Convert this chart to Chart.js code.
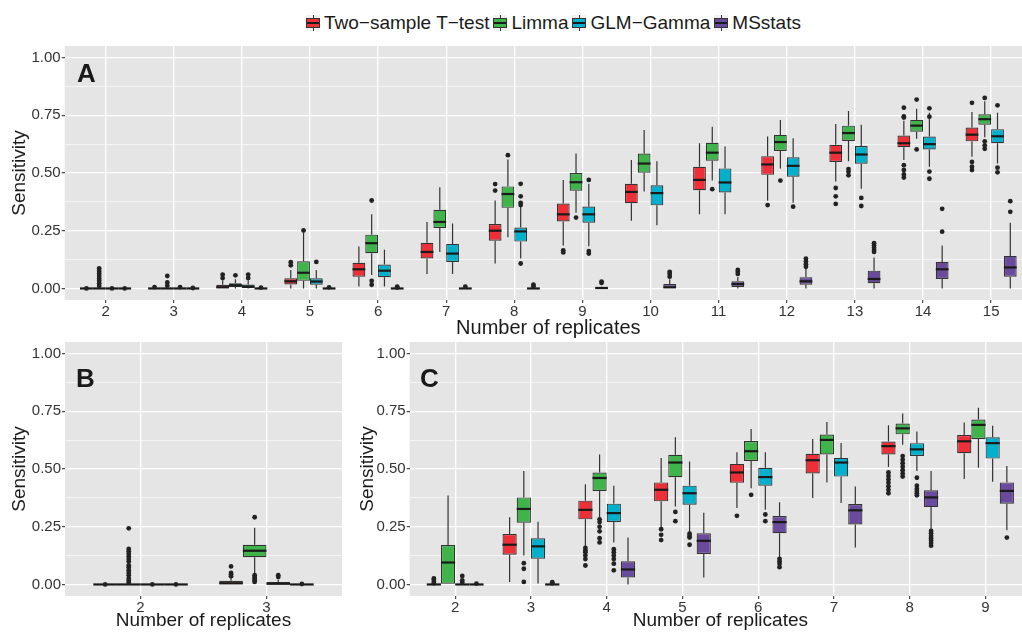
<!DOCTYPE html>
<html>
<head>
<meta charset="utf-8">
<script src="https://cdn.jsdelivr.net/npm/chart.js@4.4.1/dist/chart.umd.min.js"></script>
<style>
    html, body { margin: 0; padding: 0; overflow: hidden; background: #fff; }
    body { width: 1022px; height: 632px; position: relative; font-family: "Liberation Sans", Arial, Helvetica, sans-serif; }
    canvas { position: absolute; }
    #legend { position: absolute; left: 306px; top: 12px; display: flex; align-items: center; font-size: 19px; color: #1a1a1a; }
    .key { position: relative; width: 14px; height: 16px; background: #F2F2F2; margin-right: 4px; }
    .key .wh { position: absolute; left: 6.5px; top: 0; width: 1px; height: 16px; background: #333; }
    .key .bx { position: absolute; left: 0; top: 3px; width: 12px; height: 8px; border: 1px solid #333; }
    .key .md { position: absolute; left: 1px; top: 7px; width: 12px; height: 2px; background: #1a1a1a; }
    .item { display: flex; align-items: center; margin-right: 4px; white-space: nowrap; }
    .tag { position: absolute; font-size: 26px; line-height: 26px; font-weight: bold; color: #1a1a1a; }
</style>
</head>
<body>
<div id="legend"></div>
<canvas id="chartA" width="1036" height="304" style="left:0;top:36px"></canvas>
<canvas id="chartB" width="346" height="300" style="left:0;top:332px"></canvas>
<canvas id="chartC" width="680" height="300" style="left:355px;top:332px"></canvas>
<div class="tag" style="left:77px;top:60px">A</div>
<div class="tag" style="left:76px;top:365px">B</div>
<div class="tag" style="left:420px;top:365px">C</div>
<script>
const methods = ['Two−sample T−test', 'Limma', 'GLM−Gamma', 'MSstats'];
const colors = ['#EE2F37', '#3FB44A', '#00B0CD', '#6A4A9D'];
const dodge = [-0.28125, -0.09375, 0.09375, 0.28125];

const yTicks = [0, 0.25, 0.5, 0.75, 1];
const yTickLabels = ['0.00', '0.25', '0.50', '0.75', '1.00'];
const yMinor = [0.125, 0.375, 0.625, 0.875];

// box stats: [lower whisker, q1, median, q3, upper whisker]
const catsA = [2, 3, 4, 5, 6, 7, 8, 9, 10, 11, 12, 13, 14, 15];
const ttestA = [
    [0, 0, 0, 0, 0], [0, 0, 0, 0, 0], [0, 0, 0.005, 0.016, 0.035], [0, 0.017, 0.031, 0.044, 0.08],
    [0.009, 0.051, 0.083, 0.111, 0.182], [0.063, 0.13, 0.158, 0.198, 0.288], [0.108, 0.207, 0.25, 0.279, 0.381],
    [0.186, 0.29, 0.321, 0.368, 0.47], [0.293, 0.369, 0.418, 0.453, 0.556], [0.321, 0.425, 0.47, 0.527, 0.629],
    [0.38, 0.492, 0.537, 0.573, 0.658], [0.463, 0.548, 0.588, 0.622, 0.712], [0.556, 0.612, 0.629, 0.662, 0.726],
    [0.57, 0.637, 0.666, 0.697, 0.764]
];
const limmaA = [
    [0, 0, 0, 0, 0], [0, 0, 0, 0, 0], [0, 0.006, 0.014, 0.023, 0.04], [0, 0.033, 0.068, 0.118, 0.24],
    [0.058, 0.153, 0.196, 0.233, 0.321], [0.158, 0.262, 0.288, 0.341, 0.438], [0.222, 0.349, 0.409, 0.442, 0.558],
    [0.328, 0.423, 0.46, 0.5, 0.584], [0.42, 0.501, 0.541, 0.584, 0.686], [0.467, 0.553, 0.588, 0.631, 0.7],
    [0.52, 0.595, 0.634, 0.665, 0.73], [0.551, 0.639, 0.673, 0.705, 0.769], [0.648, 0.679, 0.705, 0.73, 0.778],
    [0.655, 0.709, 0.733, 0.754, 0.811]
];
const glmA = [
    [0, 0, 0, 0, 0], [0, 0, 0, 0, 0], [0, 0.002, 0.008, 0.017, 0.035], [0, 0.016, 0.03, 0.044, 0.08],
    [0.009, 0.049, 0.077, 0.104, 0.168], [0.063, 0.115, 0.151, 0.193, 0.281], [0.13, 0.203, 0.247, 0.264, 0.355],
    [0.183, 0.285, 0.321, 0.355, 0.453], [0.274, 0.36, 0.413, 0.447, 0.551], [0.321, 0.416, 0.459, 0.52, 0.615],
    [0.371, 0.484, 0.531, 0.568, 0.651], [0.432, 0.54, 0.58, 0.617, 0.709], [0.527, 0.602, 0.625, 0.658, 0.761],
    [0.541, 0.629, 0.659, 0.69, 0.761]
];
const msA = [
    [0, 0, 0, 0, 0], [0, 0, 0, 0, 0], [0, 0, 0, 0, 0], [0, 0, 0, 0, 0],
    [0, 0, 0, 0, 0], [0, 0, 0, 0, 0], [0, 0, 0, 0, 0],
    [0, 0, 0.002, 0.004, 0.008], [0, 0, 0.005, 0.019, 0.04], [0, 0.006, 0.019, 0.031, 0.05],
    [0, 0.016, 0.031, 0.049, 0.087], [0, 0.023, 0.041, 0.077, 0.134], [0, 0.041, 0.083, 0.115, 0.186],
    [0, 0.051, 0.091, 0.141, 0.285]
];
const ttestOutA = [
    [0], [0.006], [0.06, 0.045], [0.114, 0.1], [], [], [0.452, 0.424], [0.165, 0.156], [], [], [0.361],
    [0.435, 0.399, 0.366], [0.783, 0.745, 0.74, 0.534, 0.513, 0.494, 0.48], [0.804, 0.548, 0.527, 0.513]
];
const limmaOutA = [
    [0.087, 0.076, 0.065, 0.054, 0.043, 0.033, 0.022, 0.011], [0.054, 0.026, 0.012], [0.057], [0.251],
    [0.381, 0.033, 0.016], [], [0.577], [0.307], [], [0.43], [0.467], [0.517, 0.505, 0.49], [0.818, 0.602],
    [0.825, 0.637, 0.62, 0.605]
];
const glmOutA = [
    [0], [0.006], [0.06, 0.045], [0.115], [], [], [0.453, 0.399, 0.371, 0.361, 0.108], [0.47, 0.162, 0.151], [], [],
    [0.354], [0.392, 0.357], [0.78, 0.744, 0.506, 0.475], [0.793, 0.523, 0.503]
];
const msOutA = [
    [0], [0.002], [0.004], [0.005], [0.008, 0.004], [0.008], [0.016, 0.01], [0.03, 0.024],
    [0.072, 0.063, 0.051], [0.08, 0.072, 0.063], [0.129, 0.117, 0.105, 0.094],
    [0.196, 0.186, 0.176, 0.166, 0.158], [0.345, 0.246], [0.378, 0.332]
];

const catsB = [2, 3];
const ttestB = [[0, 0, 0, 0, 0], [0, 0, 0.005, 0.016, 0.03]];
const limmaB = [[0, 0, 0, 0, 0], [0.05, 0.118, 0.146, 0.172, 0.246]];
const glmB = [[0, 0, 0, 0, 0], [0, 0, 0.003, 0.011, 0.02]];
const msB = [[0, 0, 0, 0, 0], [0, 0, 0, 0, 0]];
const ttestOutB = [[0], [0.078, 0.05, 0.043, 0.036]];
const limmaOutB = [
    [0.243, 0.154, 0.144, 0.133, 0.121, 0.11, 0.099, 0.083, 0.073, 0.062, 0.051, 0.04, 0.026, 0.016, 0.008],
    [0.291, 0.04, 0.032, 0.026, 0.018, 0.011]
];
const glmOutB = [[0], [0.04, 0.032]];
const msOutB = [[0], [0.002]];

const catsC = [2, 3, 4, 5, 6, 7, 8, 9];
const ttestC = [
    [0, 0, 0, 0, 0], [0.011, 0.129, 0.172, 0.218, 0.291], [0.163, 0.282, 0.323, 0.363, 0.434],
    [0.246, 0.36, 0.41, 0.442, 0.548], [0.331, 0.44, 0.485, 0.522, 0.573], [0.374, 0.481, 0.538, 0.566, 0.63],
    [0.509, 0.563, 0.599, 0.619, 0.69], [0.457, 0.568, 0.62, 0.647, 0.701]
];
const limmaC = [
    [0, 0, 0.095, 0.171, 0.385], [0.125, 0.267, 0.327, 0.377, 0.491], [0.289, 0.405, 0.461, 0.485, 0.563],
    [0.338, 0.464, 0.528, 0.562, 0.637], [0.417, 0.535, 0.577, 0.621, 0.673], [0.442, 0.563, 0.626, 0.649, 0.704],
    [0.605, 0.65, 0.676, 0.697, 0.74], [0.505, 0.63, 0.691, 0.714, 0.765]
];
const glmC = [
    [0, 0, 0, 0, 0], [0.004, 0.111, 0.165, 0.2, 0.272], [0.182, 0.271, 0.309, 0.35, 0.428],
    [0.225, 0.345, 0.395, 0.428, 0.533], [0.324, 0.428, 0.465, 0.505, 0.573], [0.353, 0.467, 0.528, 0.548, 0.613],
    [0.491, 0.556, 0.585, 0.612, 0.662], [0.445, 0.545, 0.612, 0.637, 0.687]
];
const msC = [
    [0, 0, 0, 0, 0], [0, 0, 0, 0, 0], [0, 0.03, 0.065, 0.1, 0.203], [0.03, 0.132, 0.189, 0.222, 0.31],
    [0.118, 0.222, 0.27, 0.296, 0.356], [0.16, 0.26, 0.321, 0.348, 0.424], [0.239, 0.335, 0.377, 0.408, 0.491],
    [0.235, 0.35, 0.405, 0.442, 0.513]
];
const ttestOutC = [
    [0.026, 0.02, 0.012, 0.005], [], [0.158, 0.147, 0.14, 0.125, 0.11, 0.082], [0.239, 0.215, 0.192], [0.297], [],
    [0.485, 0.47, 0.455, 0.44, 0.425, 0.41, 0.395], []
];
const limmaOutC = [
    [], [0.092, 0.068, 0.011], [0.282, 0.27, 0.25, 0.23, 0.2, 0.182], [0.314, 0.274], [0.388], [],
    [0.556, 0.54, 0.525, 0.51, 0.495, 0.48, 0.467], []
];
const glmOutC = [
    [0.037, 0.018, 0.008], [], [0.153, 0.14, 0.125, 0.11, 0.09, 0.061], [0.22, 0.21, 0.203, 0.172], [0.303, 0.274], [],
    [0.462, 0.428, 0.415, 0.405, 0.395, 0.386], []
];
const msOutC = [
    [0.004], [0.01, 0.005], [], [], [0.111, 0.1, 0.09, 0.075], [],
    [0.232, 0.222, 0.21, 0.2, 0.19, 0.18, 0.168], [0.203]
];

Chart.defaults.font.family = '"Liberation Sans", Arial, Helvetica, sans-serif';
Chart.defaults.color = '#333';

// panel background, whiskers and median lines
const boxPlugin = {
    id: 'boxes',
    beforeDraw(chart) {
        const { ctx, chartArea: a } = chart;
        ctx.save();
        ctx.fillStyle = '#E5E5E5';
        ctx.fillRect(a.left, a.top, a.right - a.left, a.bottom - a.top);
        ctx.restore();
    },
    beforeDatasetsDraw(chart) {
        const ctx = chart.ctx;
        const y = chart.scales.y;
        ctx.save();
        ctx.strokeStyle = '#333';
        ctx.lineWidth = 1.2;
        chart.data.datasets.forEach((ds, di) => {
            if (!ds.boxStats) return;
            chart.getDatasetMeta(di).data.forEach((bar, i) => {
                const [lo, q1, , q3, hi] = ds.boxStats[i];
                ctx.beginPath();
                ctx.moveTo(bar.x, y.getPixelForValue(lo));
                ctx.lineTo(bar.x, y.getPixelForValue(q1));
                ctx.moveTo(bar.x, y.getPixelForValue(q3));
                ctx.lineTo(bar.x, y.getPixelForValue(hi));
                ctx.stroke();
            });
        });
        ctx.restore();
    },
    afterDatasetDraw(chart, args) {
        const ds = chart.data.datasets[args.index];
        if (!ds.boxStats) return;
        const ctx = chart.ctx;
        const y = chart.scales.y;
        ctx.save();
        ctx.strokeStyle = '#1a1a1a';
        ctx.lineWidth = 2.2;
        args.meta.data.forEach((bar, i) => {
            const py = y.getPixelForValue(ds.boxStats[i][2]);
            ctx.beginPath();
            ctx.moveTo(bar.x - bar.width / 2, py);
            ctx.lineTo(bar.x + bar.width / 2, py);
            ctx.stroke();
        });
        ctx.restore();
    }
};

function outlierPoints(cats, outs, shift) {
    const pts = [];
    cats.forEach((c, i) => outs[i].forEach(v => pts.push({ x: c + shift, y: v })));
    return pts;
}

function buildPanel(id, cats, stats, outs, xMax, cfg) {
    const datasets = [];
    stats.forEach((s, m) => {
        datasets.push({
            type: 'bar',
            label: methods[m],
            data: cats.map((c, i) => ({ x: c, y: [s[i][1], s[i][3]] })),
            boxStats: s,
            backgroundColor: colors[m],
            borderColor: '#333',
            borderWidth: 1.2,
            borderSkipped: false,
            barPercentage: 1,
            categoryPercentage: 0.75,
            order: 2
        });
    });
    outs.forEach((o, m) => {
        datasets.push({
            type: 'scatter',
            label: methods[m] + ' outliers',
            data: outlierPoints(cats, o, dodge[m]),
            pointRadius: 2.4,
            pointBackgroundColor: '#222',
            pointBorderWidth: 0,
            order: 1
        });
    });

    new Chart(document.getElementById(id), {
        type: 'bar',
        data: { datasets },
        options: {
            responsive: false,
            animation: false,
            devicePixelRatio: 1,
            layout: { padding: { top: 6, left: 0, right: 0, bottom: 0 } },
            plugins: { legend: { display: false }, tooltip: { enabled: false } },
            scales: {
                x: {
                    type: 'linear',
                    min: 1.4,
                    max: xMax,
                    offset: false,
                    afterBuildTicks: (scale) => { scale.ticks = cats.map(v => ({ value: v })); },
                    afterFit: (scale) => { scale.height = cfg.xAxisHeight; },
                    grid: { offset: false, color: '#fff', lineWidth: 1.3, tickColor: '#333', tickLength: 3, tickWidth: 1.1 },
                    border: { display: false },
                    ticks: { autoSkip: false, maxRotation: 0, padding: 0, color: '#333', font: { size: 15 }, callback: (v) => String(v) },
                    title: { display: true, text: 'Number of replicates', color: '#1a1a1a', font: { size: cfg.xTitleSize }, padding: { top: 0, bottom: 0 } }
                },
                y: {
                    min: -0.05,
                    max: 1.05,
                    afterBuildTicks: (scale) => {
                        scale.ticks = yTicks.concat(yMinor).sort((a, b) => a - b).map(v => ({ value: v }));
                    },
                    afterFit: (scale) => { scale.width = cfg.yAxisWidth; },
                    grid: {
                        color: '#fff',
                        lineWidth: (c) => (yTicks.includes(c.tick.value) ? 1.3 : 0.6),
                        tickColor: (c) => (yTicks.includes(c.tick.value) ? '#333' : 'rgba(0,0,0,0)'),
                        tickLength: 3,
                        tickWidth: 1.1
                    },
                    border: { display: false },
                    ticks: {
                        autoSkip: false,
                        padding: 1,
                        color: '#333',
                        font: { size: 15 },
                        callback: (v) => {
                            const k = yTicks.indexOf(v);
                            return k >= 0 ? yTickLabels[k] : '';
                        }
                    },
                    title: { display: true, text: 'Sensitivity', color: '#1a1a1a', font: { size: 19 }, padding: { top: cfg.yTitlePad, bottom: 0 } }
                }
            }
        },
        plugins: [boxPlugin]
    });
}

function buildLegend() {
    const legend = document.getElementById('legend');
    methods.forEach((name, m) => {
        const item = document.createElement('div');
        item.className = 'item';
        item.innerHTML = '<div class="key"><div class="wh"></div><div class="bx" style="background:' + colors[m] +
            '"></div><div class="md"></div></div><span>' + name + '</span>';
        legend.appendChild(item);
    });
}

buildLegend();
buildPanel('chartA', catsA, [ttestA, limmaA, glmA, msA], [ttestOutA, limmaOutA, glmOutA, msOutA], 15.6,
    { xAxisHeight: 40, yAxisWidth: 64.7, xTitleSize: 20, yTitlePad: 8.6 });
buildPanel('chartB', catsB, [ttestB, limmaB, glmB, msB], [ttestOutB, limmaOutB, glmOutB, msOutB], 3.6,
    { xAxisHeight: 36, yAxisWidth: 65, xTitleSize: 19, yTitlePad: 8.6 });
buildPanel('chartC', catsC, [ttestC, limmaC, glmC, msC], [ttestOutC, limmaOutC, glmOutC, msOutC], 9.6,
    { xAxisHeight: 36, yAxisWidth: 54.7, xTitleSize: 19, yTitlePad: 1.1 });
</script>
</body>
</html>
